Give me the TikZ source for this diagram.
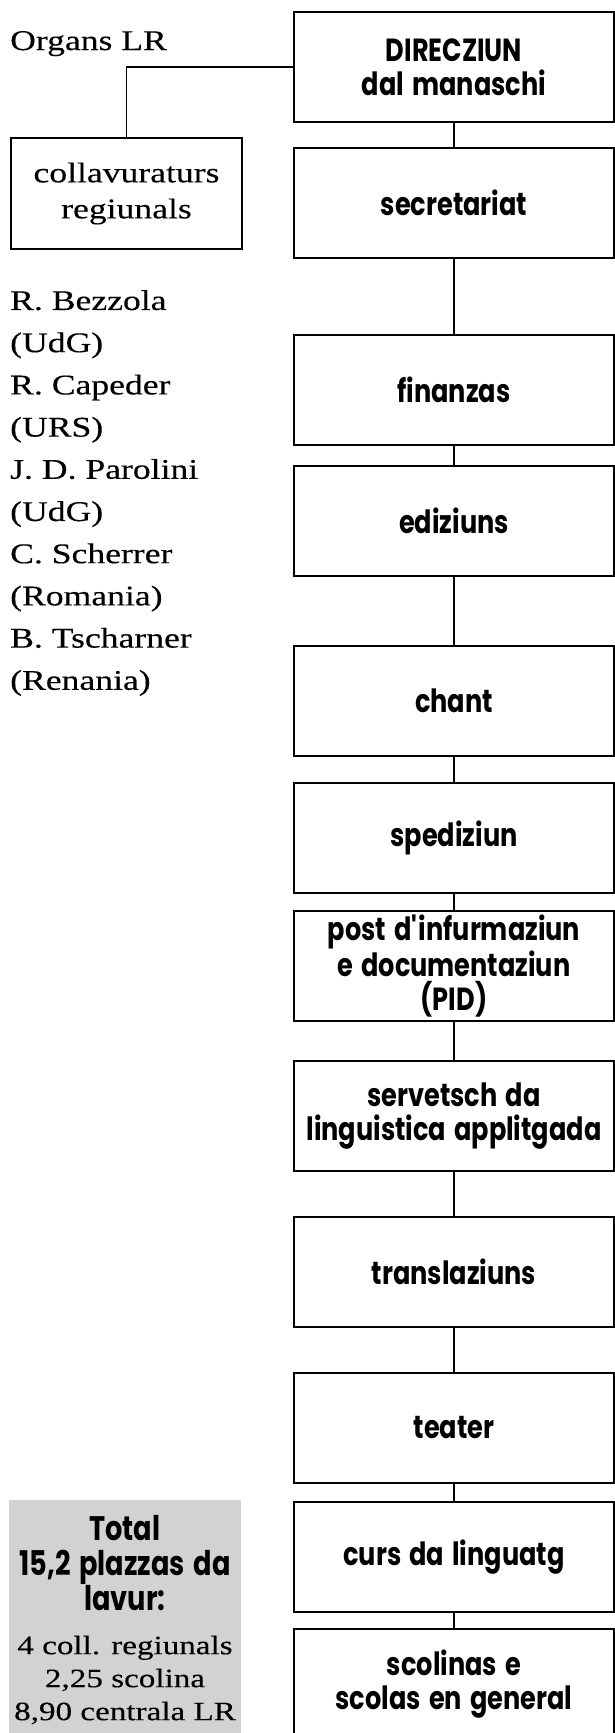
\documentclass[tikz,border=0pt]{standalone}
\usepackage{fontspec}
\setmainfont{Liberation Serif}[FakeStretch=1.25, FakeBold=0.3]
\newfontfamily\unitfont{Poppins}[FakeStretch=0.8, WordSpace=1.5]
\usepackage{tikz}
\usetikzlibrary{positioning}
\newcommand{\widthunit}{320pt}
\newcommand{\heightunit}{110pt}
\newcommand{\unitsize}{\fontsize{32}{34}\selectfont}
\newcommand{\namesize}{\fontsize{28.5}{42.2}\selectfont}
\tikzset{
    common/.style={anchor=north west, draw, rectangle, line width=2pt, align=center},
    unit/.style={common, minimum width=\widthunit, minimum height=\heightunit, font=\unitfont\bfseries\unitsize},
    organ/.style={common, minimum width=231pt, minimum height=111pt, font=\fontsize{28.5}{36}\selectfont},
    names/.style={anchor=north west, inner sep=0pt, align=left, font=\namesize},
    totalbox/.style={anchor=north west, rectangle, fill=gray!35, minimum width=232pt, minimum height=240pt},
    totalhead/.style={align=center, font=\unitfont\bfseries\fontsize{34}{35}\selectfont},
    totallist/.style={align=center, font=\fontsize{26.5}{33}\selectfont},
    link/.style={line width=1.6pt}
}
\begin{document}
\begin{tikzpicture}[x=1pt,y=1pt]
    \useasboundingbox (0,0) rectangle (615,-1733);

    \path
        (293,-11) node[unit] (direcziun) {DIRECZIUN\\dal manaschi}
        to ++(270:136) node[unit] (secretariat) {secretariat}
        to ++(270:187) node[unit] (finanzas) {finanzas}
        to ++(270:131) node[unit] (ediziuns) {ediziuns}
        to ++(270:180) node[unit] (chant) {chant}
        to ++(270:137) node[unit] (spediziun) {spediziun}
        to ++(270:128) node[unit] (pid) {post d\textquotesingle infurmaziun\\e documentaziun\\(PID)}
        to ++(270:150) node[unit] (servetsch) {servetsch da\\linguistica applitgada}
        to ++(270:156) node[unit] (translaziuns) {translaziuns}
        to ++(270:156) node[unit] (teater) {teater}
        to ++(270:129) node[unit] (curs) {curs da linguatg}
        to ++(270:127) node[unit] (scolinas) {scolinas e\\scolas en general};

    \node[anchor=base west, inner sep=0pt, font=\namesize] (organs) at (10,-50) {Organs LR};
    \node[organ] (collav) at (10,-137) {collavuraturs\\regiunals};
    \node[names] (collav-names) at (10,-290) {R. Bezzola\\(UdG)\\R. Capeder\\(URS)\\J. D. Parolini\\(UdG)\\C. Scherrer\\(Romania)\\B. Tscharner\\(Renania)};

    \node[totalbox] (total) at (9,-1500) {};
    \node[totalhead] (total-head) at (125,-1563) {Total\\15,2 plazzas da\\lavur:};
    \node[totallist] (total-list) at (125,-1680) {4 coll. regiunals\\2,25 scolina\\8,90 centrala LR};

    \draw[link] (direcziun) edge (secretariat) (secretariat) edge (finanzas) (finanzas) edge (ediziuns)
        (ediziuns) edge (chant) (chant) edge (spediziun) (spediziun) edge (pid) (pid) edge (servetsch)
        (servetsch) edge (translaziuns) (translaziuns) edge (teater) (teater) edge (curs) (curs) edge (scolinas);
    \draw[link] (direcziun.west) -| (collav.north);
\end{tikzpicture}
\end{document}
